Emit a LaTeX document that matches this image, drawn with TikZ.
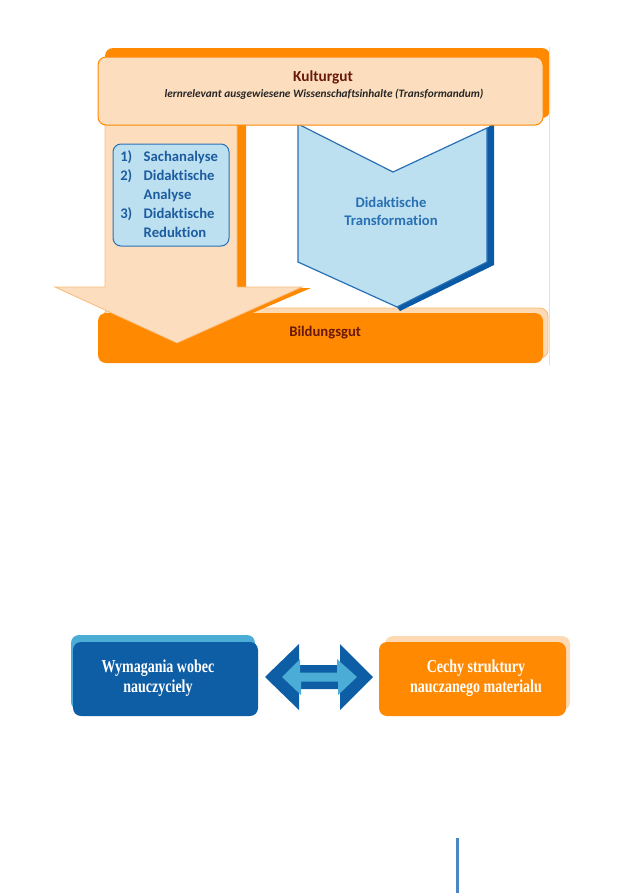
\documentclass[tikz,border=0pt]{standalone}
\usepackage{fontspec}
\setmainfont{Liberation Serif}
\newfontfamily\calibrifont[Ligatures=NoCommon]{Carlito}
\usetikzlibrary{fit,calc}

\definecolor{kulturorange}{RGB}{255,137,0}
\definecolor{kulturpeach}{RGB}{252,222,190}
\definecolor{peachline}{RGB}{248,186,120}
\definecolor{transblue}{RGB}{189,224,240}
\definecolor{transline}{RGB}{40,112,180}
\definecolor{transdark}{RGB}{10,90,165}
\definecolor{steptext}{RGB}{28,92,160}
\definecolor{guttext}{RGB}{105,25,10}
\definecolor{wymblue}{RGB}{14,94,166}
\definecolor{wymlight}{RGB}{75,172,214}
\definecolor{cechpeach}{RGB}{253,218,180}
\definecolor{pageline}{RGB}{74,134,197}

\newcommand{\tallline}[1]{\scalebox{1}[1.3]{#1}}

\begin{document}
\begin{tikzpicture}[x=0.75pt,y=0.75pt,yscale=-1,xscale=1,
	box/.style={rounded corners=6pt, inner sep=0pt},
	calibri/.style={font=\calibrifont\bfseries\fontsize{11}{13.5}\selectfont},
	times/.style={font=\bfseries\fontsize{10.5}{15}\selectfont, text=white, align=center}]
				\useasboundingbox (0,0) rectangle (630,893);
				
				%Shape: Rectangle [Kulturgut back]
				\node[box, fill=kulturorange, fit={(105,48) (550,118)}] (kulturback) {};
				%Shape: Rectangle [Bildungsgut back]
				\node[box, fill=cechpeach, draw=peachline, line width=0.6pt, fit={(104,308) (548,358)}] (bildungback) {};
				%Shape: Rectangle [Bildungsgut]
				\node[box, fill=kulturorange, fit={(98,313) (543,363)}, calibri, text=guttext] (bildung) {\hspace*{7pt}Bildungsgut};
				%Shape: Line [frame]
				\draw[black!12, line width=0.75pt] (549,47) -- (549,365);
				
				%Shape: Polygon [chevron side]
				\fill[transdark] (487,128) -- (494,123) -- (494,265) -- (400,311) -- (397,307) -- (487,262) -- cycle;
				%Shape: Polygon [chevron]
				\draw[fill=transblue, draw=transline, line width=0.9pt] (298,124) -- (393,172) -- (487,128) -- (487,262) -- (397,307) -- (298,262) -- cycle;
				% Text Node
				\node[calibri, text=transline, align=center] (transtext) at (391,211) {Didaktische\\Transformation};
				
				%Shape: Polygon [arrow side]
				\fill[kulturorange] (114,120) -- (246,120) -- (246,288) -- (311,288) -- (180,344) -- (64,288) -- (114,288) -- cycle;
				%Shape: Polygon [arrow]
				\draw[fill=kulturpeach, draw=peachline, line width=0.6pt] (105,120) -- (237,120) -- (237,287) -- (302,287) -- (177,343) -- (55,287) -- (105,287) -- cycle;
				
				%Shape: Rectangle [steps]
				\node[box, fill=transblue, draw=transline, line width=0.75pt, fit={(113,144) (229,246)}] (stepsbox) {};
				% Text Node
				\node[anchor=west, inner sep=0pt, align=left, text=steptext, font=\calibrifont\bfseries\fontsize{11}{14.25}\selectfont] (steps) at (120,194) {\makebox[1.6em][l]{1)}Sachanalyse\\\makebox[1.6em][l]{2)}Didaktische\\\makebox[1.6em][l]{}Analyse\\\makebox[1.6em][l]{3)}Didaktische\\\makebox[1.6em][l]{}Reduktion};
				
				%Shape: Rectangle [Kulturgut]
				\node[box, fill=kulturpeach, draw=kulturorange, line width=0.75pt, fit={(98,57) (543,125)}] (kultur) {};
				% Text Node
				\node[text=guttext, font=\calibrifont\bfseries\fontsize{11.5}{13}\selectfont] (kulturtitle) at (323,77) {Kulturgut};
				% Text Node
				\node[text=black!85, font=\calibrifont\bfseries\itshape\fontsize{8.5}{10}\selectfont] (kultursub) at (324,94) {lernrelevant ausgewiesene Wissenschaftsinhalte (Transformandum)};
				
				%Shape: Rectangle [Wymagania back]
				\node[box, fill=wymlight, fit={(71,635) (255,710)}] (wymback) {};
				%Shape: Rectangle [Wymagania]
				\node[box, fill=wymblue, fit={(73,642) (258,716)}] (wym) {};
				% Text Node
				\node[times] (wymtext) at (158,678) {\tallline{Wymagania wobec}\\\tallline{nauczyciely}};
				
				%Shape: Rectangle [Cechy back]
				\node[box, fill=cechpeach, fit={(385,636) (570,710)}] (cechback) {};
				%Shape: Rectangle [Cechy]
				\node[box, fill=kulturorange, fit={(379,642) (566,716)}] (cech) {};
				% Text Node
				\node[times] (cechtext) at (476,678) {\tallline{Cechy struktury}\\\tallline{nauczanego materialu}};
				
				%Shape: Double Arrow
				\coordinate (dl) at (265,677);
				\coordinate (dr) at (373,677);
				\fill[wymblue] (dl) -- ++(34,-33) -- ++(0,21) -- ++(41,0) -- ++(0,-21) -- (dr) -- ++(-33,33) -- ++(0,-21) -- ++(-41,0) -- ++(0,21) -- cycle;
				\fill[wymlight] ($(dl)+(17,0)$) -- ++(18,-18) -- ++(0,13.5) -- ++(37,0) -- ++(0,-13.5) -- ($(dr)+(-16,0)$) -- ++(-19,18) -- ++(0,-13.5) -- ++(-37,0) -- ++(0,13.5) -- cycle;
				
				%Shape: Line [page mark]
				\coordinate (marktop) at (457,838);
				\coordinate (markbottom) at (457,893);
				\draw[pageline, line width=2.25pt] (marktop) -- (markbottom);
				
\end{tikzpicture}
\end{document}
